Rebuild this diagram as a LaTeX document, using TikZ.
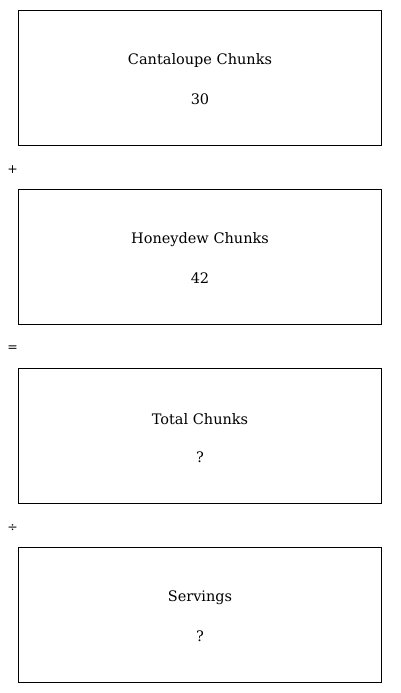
\documentclass[tikz,border=0pt]{standalone}
\usepackage{fontspec}
\setmainfont{DejaVu Serif}
\begin{document}
\begin{tikzpicture}[x=1pt,y=-1pt,
  box/.style={draw=black,line width=0.8pt},
  lbl/.style={font=\fontsize{14.5}{17}\selectfont,inner sep=0pt},
  op/.style={font=\fontsize{12.5}{15}\selectfont,inner sep=0pt}]
\useasboundingbox (0,0) rectangle (400,693);
\foreach \i/\t/\v/\y in {1/Cantaloupe Chunks/30/10, 2/Honeydew Chunks/42/189, 3/Total Chunks/?/368, 4/Servings/?/547}{
  \draw[box] (18.5,\y+0.5) rectangle (381.5,\y+135.5);
  \node[lbl] (t\i) at (200,\y+51) {\t};
  \node[lbl] (v\i) at (200,\y+89.5) {\v};
}
\node[op] (o1) at (12.5,169.5) {+};
\node[op] (o2) at (12.5,348.5) {=};
\node[op] (o3) at (12.5,527.5) {÷};
\end{tikzpicture}
\end{document}
